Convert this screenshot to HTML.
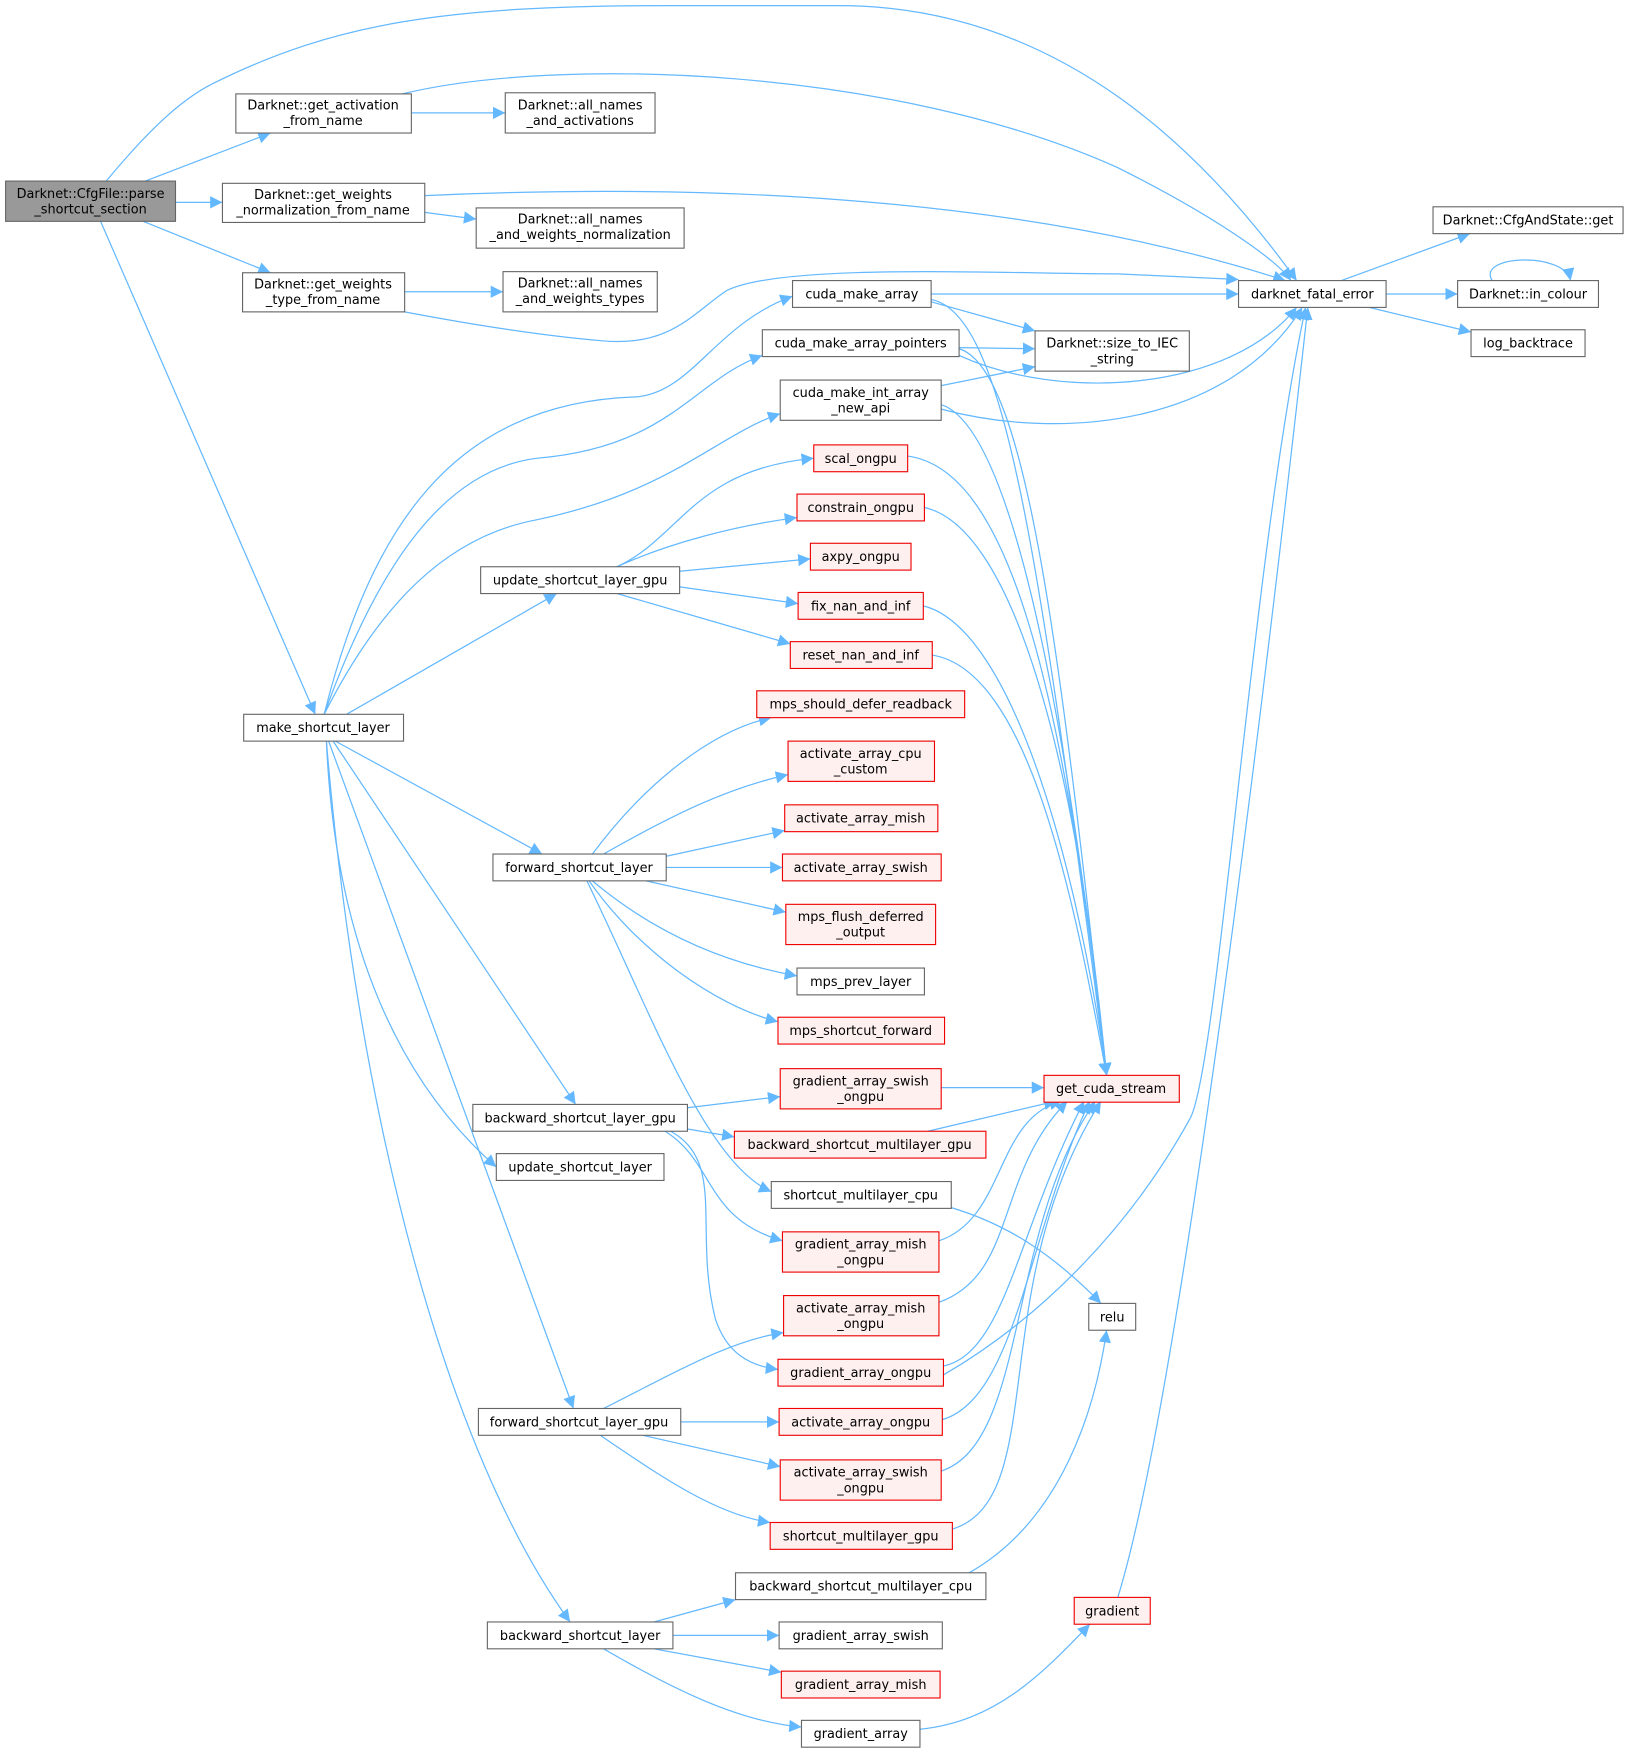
<!DOCTYPE html>
<html><head><meta charset="utf-8"><style>
html,body{margin:0;padding:0;background:#fff;}
svg{display:block;}
text{font-family:"DejaVu Sans","Liberation Sans",sans-serif;font-size:11.5px;fill:#000;text-anchor:middle;}
.n rect{fill:#fff;stroke:#666;stroke-width:1;}
.r rect{fill:#fff0f0;stroke:#e00;stroke-width:1;}
.g rect{fill:#999;stroke:#666;}
path.e{fill:none;stroke:#63b8ff;stroke-width:1.1;}
</style></head><body>
<svg width="1632" height="1755" viewBox="0 0 1460 1570" preserveAspectRatio="none" xmlns="http://www.w3.org/2000/svg">
<defs><marker id="a" viewBox="0 0 10 10" refX="10" refY="5" markerWidth="11" markerHeight="11" markerUnits="userSpaceOnUse" orient="auto"><path d="M0,0 L10,5 L0,10z" fill="#63b8ff"/></marker></defs>
<g marker-end="url(#a)">
<path class="e" d="M95,162 C130,120 160,90 190,75 C300,20 400,5 600,5 L750,5 C950,5 1080,140 1160,251"/>
<path class="e" d="M130,162 L242,119"/>
<path class="e" d="M157,181 L199,181"/>
<path class="e" d="M128,198 L242,244"/>
<path class="e" d="M90,198 L282,639"/>
<path class="e" d="M368,101 L452,101"/>
<path class="e" d="M360,84 C500,50 800,60 1000,150 C1080,190 1140,230 1155,251"/>
<path class="e" d="M380,190 L426,196"/>
<path class="e" d="M380,175 C600,165 900,170 1150,251"/>
<path class="e" d="M362,261 L450,261"/>
<path class="e" d="M362,279 C420,290 480,300 540,305 C600,310 620,280 650,260 C700,235 900,245 1000,245 L1108,250"/>
<path class="e" d="M1200,251 L1315,209"/>
<path class="e" d="M1240,263 L1304,263"/>
<path class="e" d="M1225,275 L1316,297"/>
<path class="e" d="M1335,251 C1320,228 1400,225 1405,251"/>
<path class="e" d="M833,263 L1108,263"/>
<path class="e" d="M833,270 L926,296"/>
<path class="e" d="M833,268 C900,280 930,500 990,962"/>
<path class="e" d="M858,311 L926,312"/>
<path class="e" d="M858,318 C950,360 1100,350 1160,275"/>
<path class="e" d="M858,312 C920,330 950,600 990,962"/>
<path class="e" d="M842,345 L926,328"/>
<path class="e" d="M842,366 C950,395 1100,380 1165,275"/>
<path class="e" d="M842,362 C900,380 950,600 990,962"/>
<path class="e" d="M812,408 C900,420 950,600 990,962"/>
<path class="e" d="M827,454 C900,470 960,650 990,962"/>
<path class="e" d="M826,542 C900,560 960,750 990,962"/>
<path class="e" d="M834,586 C920,600 960,800 990,962"/>
<path class="e" d="M290,639 C330,480 400,360 570,355 C620,350 640,290 709,265"/>
<path class="e" d="M290,639 C340,500 400,420 480,410 C600,400 620,340 682,318"/>
<path class="e" d="M290,639 C340,540 400,480 480,465 C600,440 640,390 698,370"/>
<path class="e" d="M310,639 L498,531"/>
<path class="e" d="M300,663 L485,764"/>
<path class="e" d="M298,663 L515,988"/>
<path class="e" d="M292,663 C300,850 360,970 444,1044"/>
<path class="e" d="M294,663 L513,1260"/>
<path class="e" d="M292,663 C320,1000 400,1300 510,1451"/>
<path class="e" d="M552,507 C610,480 620,420 728,410"/>
<path class="e" d="M552,507 C600,485 660,470 713,463"/>
<path class="e" d="M608,511 L725,500"/>
<path class="e" d="M608,525 L714,540"/>
<path class="e" d="M552,531 L707,576"/>
<path class="e" d="M530,764 C570,710 630,655 690,642"/>
<path class="e" d="M540,764 C600,730 650,705 705,693"/>
<path class="e" d="M596,766 L702,743"/>
<path class="e" d="M596,776 L700,776"/>
<path class="e" d="M578,788 L703,816"/>
<path class="e" d="M530,788 C580,830 640,860 713,873"/>
<path class="e" d="M527,788 C570,850 640,900 696,914"/>
<path class="e" d="M525,788 C580,900 630,1040 690,1066"/>
<path class="e" d="M842,973 L934,973"/>
<path class="e" d="M830,1012 L945,985"/>
<path class="e" d="M850,1080 C900,1095 940,1120 985,1166"/>
<path class="e" d="M840,1110 C900,1090 890,1000 950,985"/>
<path class="e" d="M840,1165 C910,1140 890,1050 955,985"/>
<path class="e" d="M844,1222 C900,1210 910,1100 970,985"/>
<path class="e" d="M844,1230 C930,1180 1010,1100 1065,1000 C1090,950 1120,500 1168,275"/>
<path class="e" d="M843,1270 C910,1250 920,1100 975,985"/>
<path class="e" d="M842,1316 C920,1290 900,1100 980,985"/>
<path class="e" d="M852,1368 C940,1340 880,1150 985,985"/>
<path class="e" d="M867,1407 C950,1360 980,1260 990,1190"/>
<path class="e" d="M1000,1429 C1040,1300 1100,900 1170,275"/>
<path class="e" d="M823,1547 C890,1540 930,1500 975,1453"/>
<path class="e" d="M615,991 L698,981"/>
<path class="e" d="M615,1010 L657,1017"/>
<path class="e" d="M595,1012 C640,1040 630,1090 700,1110"/>
<path class="e" d="M600,1012 C650,1040 620,1100 640,1180 C650,1210 670,1222 696,1225"/>
<path class="e" d="M540,1260 C600,1230 650,1200 701,1192"/>
<path class="e" d="M609,1272 L697,1272"/>
<path class="e" d="M575,1284 L698,1312"/>
<path class="e" d="M537,1284 C590,1320 640,1355 689,1362"/>
<path class="e" d="M585,1451 L658,1431"/>
<path class="e" d="M602,1463 L697,1463"/>
<path class="e" d="M585,1475 L699,1496"/>
<path class="e" d="M540,1475 C600,1510 660,1540 717,1545"/>
</g>

<g class="g"><rect x="5" y="162" width="152" height="36"/><text x="81" y="177">Darknet::CfgFile::parse</text><text x="81" y="191">_shortcut_section</text></g>

<g class="n"><rect x="211" y="84" width="157" height="35"/><text x="289" y="98">Darknet::get_activation</text><text x="289" y="112">_from_name</text></g>
<g class="n"><rect x="452" y="83" width="134" height="36"/><text x="519" y="98">Darknet::all_names</text><text x="519" y="112">_and_activations</text></g>
<g class="n"><rect x="199" y="164" width="181" height="35"/><text x="289" y="178">Darknet::get_weights</text><text x="289" y="192">_normalization_from_name</text></g>
<g class="n"><rect x="426" y="186" width="186" height="36"/><text x="519" y="200">Darknet::all_names</text><text x="519" y="214">_and_weights_normalization</text></g>
<g class="n"><rect x="217" y="244" width="145" height="35"/><text x="289" y="258">Darknet::get_weights</text><text x="289" y="272">_type_from_name</text></g>
<g class="n"><rect x="450" y="243" width="138" height="36"/><text x="519" y="257">Darknet::all_names</text><text x="519" y="271">_and_weights_types</text></g>
<g class="n"><rect x="1108" y="251" width="132" height="24"/><text x="1174" y="267">darknet_fatal_error</text></g>
<g class="n"><rect x="1282" y="185" width="170" height="24"/><text x="1367" y="201">Darknet::CfgAndState::get</text></g>
<g class="n"><rect x="1304" y="251" width="126" height="24"/><text x="1367" y="267">Darknet::in_colour</text></g>
<g class="n"><rect x="1316" y="295" width="102" height="24"/><text x="1367" y="311">log_backtrace</text></g>
<g class="n"><rect x="709" y="251" width="124" height="24"/><text x="771" y="267">cuda_make_array</text></g>
<g class="n"><rect x="926" y="296" width="138" height="36"/><text x="995" y="311">Darknet::size_to_IEC</text><text x="995" y="325">_string</text></g>
<g class="n"><rect x="682" y="295" width="176" height="24"/><text x="770" y="311">cuda_make_array_pointers</text></g>
<g class="n"><rect x="698" y="340" width="144" height="36"/><text x="770" y="355">cuda_make_int_array</text><text x="770" y="369">_new_api</text></g>
<g class="r"><rect x="728" y="398" width="84" height="24"/><text x="770" y="414">scal_ongpu</text></g>
<g class="r"><rect x="713" y="442" width="114" height="24"/><text x="770" y="458">constrain_ongpu</text></g>
<g class="r"><rect x="725" y="486" width="90" height="24"/><text x="770" y="502">axpy_ongpu</text></g>
<g class="n"><rect x="430" y="507" width="178" height="24"/><text x="519" y="523">update_shortcut_layer_gpu</text></g>
<g class="r"><rect x="714" y="530" width="112" height="24"/><text x="770" y="546">fix_nan_and_inf</text></g>
<g class="r"><rect x="707" y="574" width="127" height="24"/><text x="770" y="590">reset_nan_and_inf</text></g>
<g class="r"><rect x="677" y="618" width="186" height="24"/><text x="770" y="634">mps_should_defer_readback</text></g>
<g class="n"><rect x="218" y="639" width="143" height="24"/><text x="289" y="655">make_shortcut_layer</text></g>
<g class="r"><rect x="705" y="663" width="131" height="36"/><text x="770" y="678">activate_array_cpu</text><text x="770" y="692">_custom</text></g>
<g class="r"><rect x="702" y="720" width="137" height="24"/><text x="770" y="736">activate_array_mish</text></g>
<g class="n"><rect x="441" y="764" width="155" height="24"/><text x="518" y="780">forward_shortcut_layer</text></g>
<g class="r"><rect x="700" y="764" width="142" height="24"/><text x="770" y="780">activate_array_swish</text></g>
<g class="r"><rect x="703" y="809" width="134" height="36"/><text x="770" y="824">mps_flush_deferred</text><text x="770" y="838">_output</text></g>
<g class="n"><rect x="713" y="866" width="114" height="24"/><text x="770" y="882">mps_prev_layer</text></g>
<g class="r"><rect x="696" y="910" width="149" height="24"/><text x="770" y="926">mps_shortcut_forward</text></g>
<g class="r"><rect x="698" y="956" width="144" height="36"/><text x="770" y="971">gradient_array_swish</text><text x="770" y="985">_ongpu</text></g>
<g class="r"><rect x="934" y="962" width="121" height="24"/><text x="994" y="978">get_cuda_stream</text></g>
<g class="n"><rect x="423" y="988" width="192" height="24"/><text x="519" y="1004">backward_shortcut_layer_gpu</text></g>
<g class="r"><rect x="657" y="1012" width="225" height="24"/><text x="769" y="1028">backward_shortcut_multilayer_gpu</text></g>
<g class="n"><rect x="444" y="1032" width="150" height="24"/><text x="519" y="1048">update_shortcut_layer</text></g>
<g class="n"><rect x="690" y="1057" width="161" height="24"/><text x="770" y="1073">shortcut_multilayer_cpu</text></g>
<g class="r"><rect x="700" y="1102" width="140" height="36"/><text x="770" y="1117">gradient_array_mish</text><text x="770" y="1131">_ongpu</text></g>
<g class="n"><rect x="974" y="1166" width="42" height="24"/><text x="995" y="1182">relu</text></g>
<g class="r"><rect x="701" y="1159" width="139" height="36"/><text x="770" y="1174">activate_array_mish</text><text x="770" y="1188">_ongpu</text></g>
<g class="r"><rect x="696" y="1216" width="148" height="24"/><text x="770" y="1232">gradient_array_ongpu</text></g>
<g class="n"><rect x="428" y="1260" width="181" height="24"/><text x="518" y="1276">forward_shortcut_layer_gpu</text></g>
<g class="r"><rect x="697" y="1260" width="146" height="24"/><text x="770" y="1276">activate_array_ongpu</text></g>
<g class="r"><rect x="698" y="1306" width="144" height="36"/><text x="770" y="1321">activate_array_swish</text><text x="770" y="1335">_ongpu</text></g>
<g class="r"><rect x="689" y="1362" width="163" height="24"/><text x="770" y="1378">shortcut_multilayer_gpu</text></g>
<g class="n"><rect x="658" y="1407" width="224" height="24"/><text x="770" y="1423">backward_shortcut_multilayer_cpu</text></g>
<g class="r"><rect x="961" y="1429" width="68" height="24"/><text x="995" y="1445">gradient</text></g>
<g class="n"><rect x="436" y="1451" width="166" height="24"/><text x="519" y="1467">backward_shortcut_layer</text></g>
<g class="n"><rect x="697" y="1451" width="146" height="24"/><text x="770" y="1467">gradient_array_swish</text></g>
<g class="r"><rect x="699" y="1495" width="142" height="24"/><text x="770" y="1511">gradient_array_mish</text></g>
<g class="n"><rect x="717" y="1539" width="106" height="24"/><text x="770" y="1555">gradient_array</text></g>
</svg>
</body></html>
